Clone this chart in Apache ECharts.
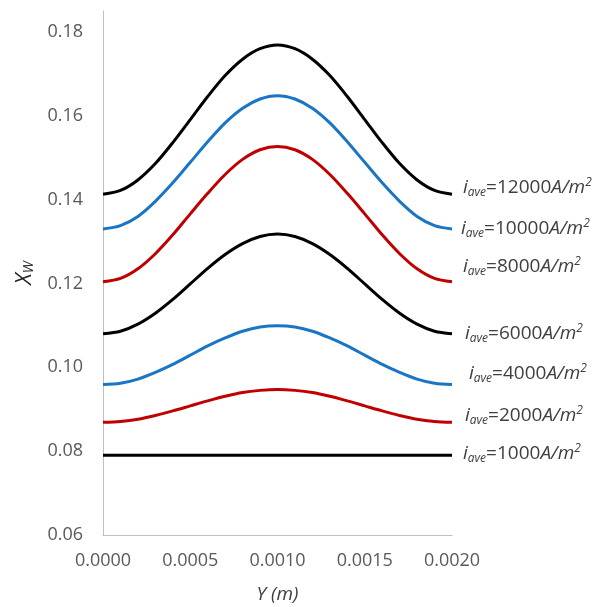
<!DOCTYPE html>
<html>
<head>
<meta charset="utf-8">
<script src="https://cdn.jsdelivr.net/npm/echarts@6/dist/echarts.min.js"></script>
<style>
html, body { margin: 0; padding: 0; background: #fff; }
#chart { width: 600px; height: 607px; }
</style>
</head>
<body>
<div id="chart"></div>
<script>
// position along Y (m)
var yPos = [0, 0.0001, 0.0002, 0.0003, 0.0004, 0.0005, 0.0006, 0.0007, 0.0008, 0.0009, 0.0010,
            0.0011, 0.0012, 0.0013, 0.0014, 0.0015, 0.0016, 0.0017, 0.0018, 0.0019, 0.0020];

// X_W
var xw12000 = [0.1413, 0.1422, 0.1447, 0.1486, 0.1536, 0.1591, 0.1646, 0.1696, 0.1735, 0.1760, 0.1769,
               0.1760, 0.1735, 0.1696, 0.1646, 0.1591, 0.1536, 0.1486, 0.1447, 0.1422, 0.1413];
var xw10000 = [0.1330, 0.1338, 0.1360, 0.1396, 0.1440, 0.1489, 0.1538, 0.1583, 0.1618, 0.1640, 0.1648,
               0.1640, 0.1618, 0.1583, 0.1538, 0.1489, 0.1440, 0.1396, 0.1360, 0.1338, 0.1330];
var xw8000 = [0.1204, 0.1212, 0.1235, 0.1271, 0.1316, 0.1366, 0.1415, 0.1460, 0.1496, 0.1519, 0.1527,
              0.1519, 0.1496, 0.1460, 0.1415, 0.1366, 0.1316, 0.1271, 0.1235, 0.1212, 0.1204];
var xw6000 = [0.1080, 0.1086, 0.1103, 0.1129, 0.1162, 0.1199, 0.1236, 0.1269, 0.1295, 0.1312, 0.1318,
              0.1312, 0.1295, 0.1269, 0.1236, 0.1199, 0.1162, 0.1129, 0.1103, 0.1086, 0.1080];
var xw4000 = [0.0959, 0.0962, 0.0972, 0.0988, 0.1007, 0.1029, 0.1051, 0.1070, 0.1086, 0.1096, 0.1099,
              0.1096, 0.1086, 0.1070, 0.1051, 0.1029, 0.1007, 0.0988, 0.0972, 0.0962, 0.0959];
var xw2000 = [0.0869, 0.0871, 0.0876, 0.0885, 0.0896, 0.0908, 0.0920, 0.0931, 0.0940, 0.0945, 0.0947,
              0.0945, 0.0940, 0.0931, 0.0920, 0.0908, 0.0896, 0.0885, 0.0876, 0.0871, 0.0869];
var xw1000 = [0.0790, 0.0790, 0.0790, 0.0790, 0.0790, 0.0790, 0.0790, 0.0790, 0.0790, 0.0790, 0.0790,
              0.0790, 0.0790, 0.0790, 0.0790, 0.0790, 0.0790, 0.0790, 0.0790, 0.0790, 0.0790];

var currents = ['12000', '10000', '8000', '6000', '4000', '2000', '1000'];
var curves = [xw12000, xw10000, xw8000, xw6000, xw4000, xw2000, xw1000];
var colors = ['#000000', '#1a75c4', '#c00000', '#000000', '#1a75c4', '#c00000', '#000000'];
var labelOffsets = [[11, -7], [9, 0], [11, -15], [13, 0], [17, -11], [13, -7], [11, -2]];

var lblRich = {
    i: { fontFamily: 'Open Sans', fontStyle: 'italic', fontSize: 19, color: '#404040' },
    s: { fontFamily: 'Open Sans', fontStyle: 'italic', fontSize: 12, color: '#404040', verticalAlign: 'bottom', padding: [10, 0, 0, 0] },
    n: { fontFamily: 'Open Sans', fontSize: 19, color: '#404040' },
    u: { fontFamily: 'Open Sans', fontStyle: 'italic', fontSize: 19, color: '#404040' },
    p: { fontFamily: 'Open Sans', fontStyle: 'italic', fontSize: 12, color: '#404040', verticalAlign: 'top', padding: [0, 0, 10, 0] }
};

var series = [];
for (var k = 0; k < curves.length; k++) {
    var pts = [];
    for (var j = 0; j < yPos.length; j++) pts.push([yPos[j], curves[k][j]]);
    (function (cur) {
        series.push({
            name: cur,
            type: 'line',
            data: pts,
            smooth: 0.3,
            showSymbol: false,
            lineStyle: { color: colors[k], width: 3 },
            itemStyle: { color: colors[k] },
            endLabel: {
                show: true,
                distance: 0,
                offset: labelOffsets[k],
                formatter: function () { return '{i|i}{s|ave}{n|=' + cur + '}{u|A/m}{p|2}'; },
                rich: lblRich
            }
        });
    })(currents[k]);
}

var myChart = echarts.init(document.getElementById('chart'));
var option = {
    animation: false,
    backgroundColor: '#ffffff',
    grid: { left: 103, right: 148, top: 11, bottom: 72, outerBoundsMode: 'none' },
    xAxis: {
        type: 'value',
        min: 0,
        max: 0.002,
        interval: 0.0005,
        name: 'Y (m)',
        nameLocation: 'middle',
        nameGap: 50,
        nameTextStyle: { fontFamily: 'Open Sans', fontStyle: 'italic', fontSize: 19, color: '#404040' },
        axisLine: { lineStyle: { color: '#bfbfbf', width: 1 } },
        axisTick: { show: false },
        splitLine: { show: false },
        axisLabel: {
            margin: 17,
            fontFamily: 'Open Sans',
            fontSize: 18,
            color: '#595959',
            formatter: function (v) { return v.toFixed(4); }
        }
    },
    yAxis: {
        type: 'value',
        min: 0.06,
        max: 0.185,
        interval: 0.02,
        name: '{a|X}{b|W}',
        nameLocation: 'middle',
        nameGap: 64,
        nameTextStyle: {
            rich: {
                a: { fontFamily: 'Open Sans', fontStyle: 'italic', fontSize: 22, color: '#262626' },
                b: { fontFamily: 'Open Sans', fontStyle: 'italic', fontSize: 14, color: '#262626', verticalAlign: 'bottom', padding: [10, 0, 0, 0] }
            }
        },
        axisLine: { show: true, lineStyle: { color: '#bfbfbf', width: 1 } },
        axisTick: { show: false },
        splitLine: { show: false },
        axisLabel: {
            margin: 20,
            showMaxLabel: false,
            fontFamily: 'Open Sans',
            fontSize: 18,
            color: '#595959',
            formatter: function (v) { return v.toFixed(2); }
        }
    },
    series: series
};
myChart.setOption(option);
</script>
</body>
</html>
